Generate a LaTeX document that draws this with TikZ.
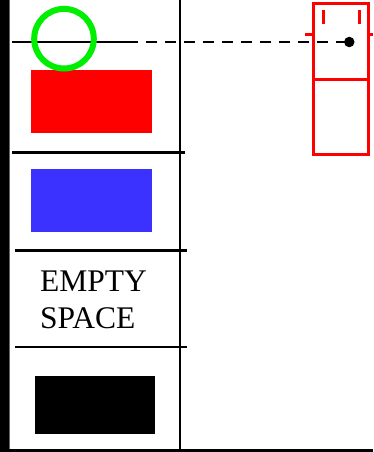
\documentclass[tikz,border=0pt]{standalone}
\usepackage{fontspec}
\setmainfont{Liberation Serif}
\definecolor{myred}{RGB}{255,0,0}
\definecolor{myblue}{RGB}{60,50,255}
\definecolor{mygreen}{RGB}{0,238,0}
\begin{document}
\begin{tikzpicture}[x=1pt,y=-1pt,
  block/.style={draw=none,inner sep=0pt,outer sep=0pt,anchor=north west,minimum width=121pt,minimum height=63pt},
  divider/.style={line width=2.5pt,black},
  redline/.style={line width=3pt,myred},
  lbl/.style={inner sep=0pt,font=\fontsize{31.5}{36}\selectfont,anchor=base west}]
\useasboundingbox (0,0) rectangle (373,452);
\fill[white] (0,0) rectangle (373,452);
% left bar
\fill[black] (0,0) rectangle (8.5,452);
\draw[line width=1pt,black!60] (9.5,0) -- (9.5,452);
% vertical divider and bottom line
\draw[line width=2.8pt] (180,0) -- (180,452);
\draw[line width=2.6pt] (9,450.5) -- (373,450.5);
% horizontal dividers
\coordinate (h1a) at (12,42);
\coordinate (h1b) at (127,42);
\draw[divider] (h1a) -- (h1b);
\draw[divider] (12,152.7) -- (185,152.7);
\draw[divider] (15,250.5) -- (187,250.5);
\draw[divider] (15,347) -- (187,347);
% coloured blocks
\node[block,fill=myred] (redblock) at (31.3,70.3) {};
\node[block,fill=myblue,minimum height=62.7pt] (blueblock) at (31.3,169) {};
\node[block,fill=black,minimum width=120.3pt,minimum height=57.7pt] (blackblock) at (35,376.3) {};
% green circle
\draw[mygreen,line width=6pt] (64,38.7) circle (29.8);
% text
\node[lbl] (empty) at (40,291.7) {EMPTY};
\node[lbl] (space) at (40,328.3) {SPACE};
% right red element
\draw[redline] (313.3,3.5) rectangle (368,154);
\draw[myred,line width=2.5pt] (313.3,79.3) -- (368,79.3);
\draw[myred,line width=3pt] (323,10) -- (323,24.3);
\draw[myred,line width=3pt] (359.3,10) -- (359.3,24.3);
\draw[myred,line width=2.5pt] (305,34.3) -- (313.3,34.3);
\draw[myred,line width=2.5pt] (368,34.3) -- (373,34.3);
% dashed connector and dot
\node[circle,fill=black,inner sep=0pt,minimum size=10.5pt] (dot) at (349.3,42) {};
\draw[line width=2.5pt,dash pattern=on 10.5pt off 8.5pt] (h1b) -- (dot.center);
\end{tikzpicture}
\end{document}
